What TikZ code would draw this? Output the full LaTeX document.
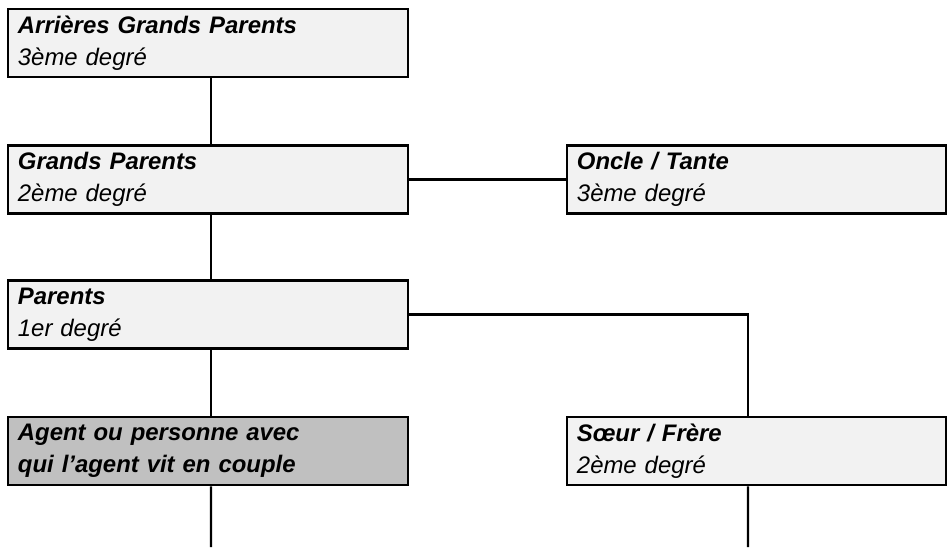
\documentclass[tikz,border=0pt]{standalone}
\usepackage{fontspec}
\setmainfont{Liberation Sans}
\usetikzlibrary{positioning}
\definecolor{fond-clair}{HTML}{F2F2F2}
\definecolor{fond-agent}{HTML}{C0C0C0}

\begin{document}
\begin{tikzpicture}[x=0.025cm, y=-0.025cm,
	   font=\fontsize{17}{22.8}\selectfont\itshape,
	   p/.style={draw, line width=1.8pt, fill=fond-clair, inner xsep=0.25cm, inner ysep=0pt,
	             align=left, text width=#1, minimum height=1.7cm},
	   p/.default=9.5cm,
	   l/.style={line width=1.5pt}]
	  \useasboundingbox (0,0) rectangle (947,547);
	  \node[p] (agp) at (208,43) {\textbf{Arrières Grands Parents}\\3ème degré};
	  \node[p] (gp) at (208,179.5) {\textbf{Grands Parents}\\2ème degré};
	  \node[p=8.975cm] (oncle) at (756.5,179.5) {\textbf{Oncle / Tante}\\3ème degré};
	  \node[p] (par) at (208,314.5) {\textbf{Parents}\\1er degré};
	  \node[p, fill=fond-agent] (agent) at (208,451) {\textbf{Agent ou personne avec}\\\textbf{qui l\symbol{39}agent vit en couple}};
	  \node[p=8.975cm] (soeur) at (756.5,451) {\textbf{Sœur / Frère}\\2ème degré};
	  \coordinate (finA) at (211,547);
	  \coordinate (finS) at (748,547);
	  \draw[l] ([xshift=0.075cm]agp.south)--([xshift=0.075cm]gp.north);
	  \draw[l] ([xshift=0.075cm]gp.south)--([xshift=0.075cm]par.north);
	  \draw[l] ([xshift=0.075cm]par.south)--([xshift=0.075cm]agent.north);
	  \draw[l] (gp.east)--(oncle.west);
	  \draw[l] (par.east) -| ([xshift=-0.2125cm]soeur.north);
	  \draw[l] ([xshift=0.075cm]agent.south)--(finA);
	  \draw[l] ([xshift=-0.2125cm]soeur.south)--(finS);
	\end{tikzpicture}
\end{document}
